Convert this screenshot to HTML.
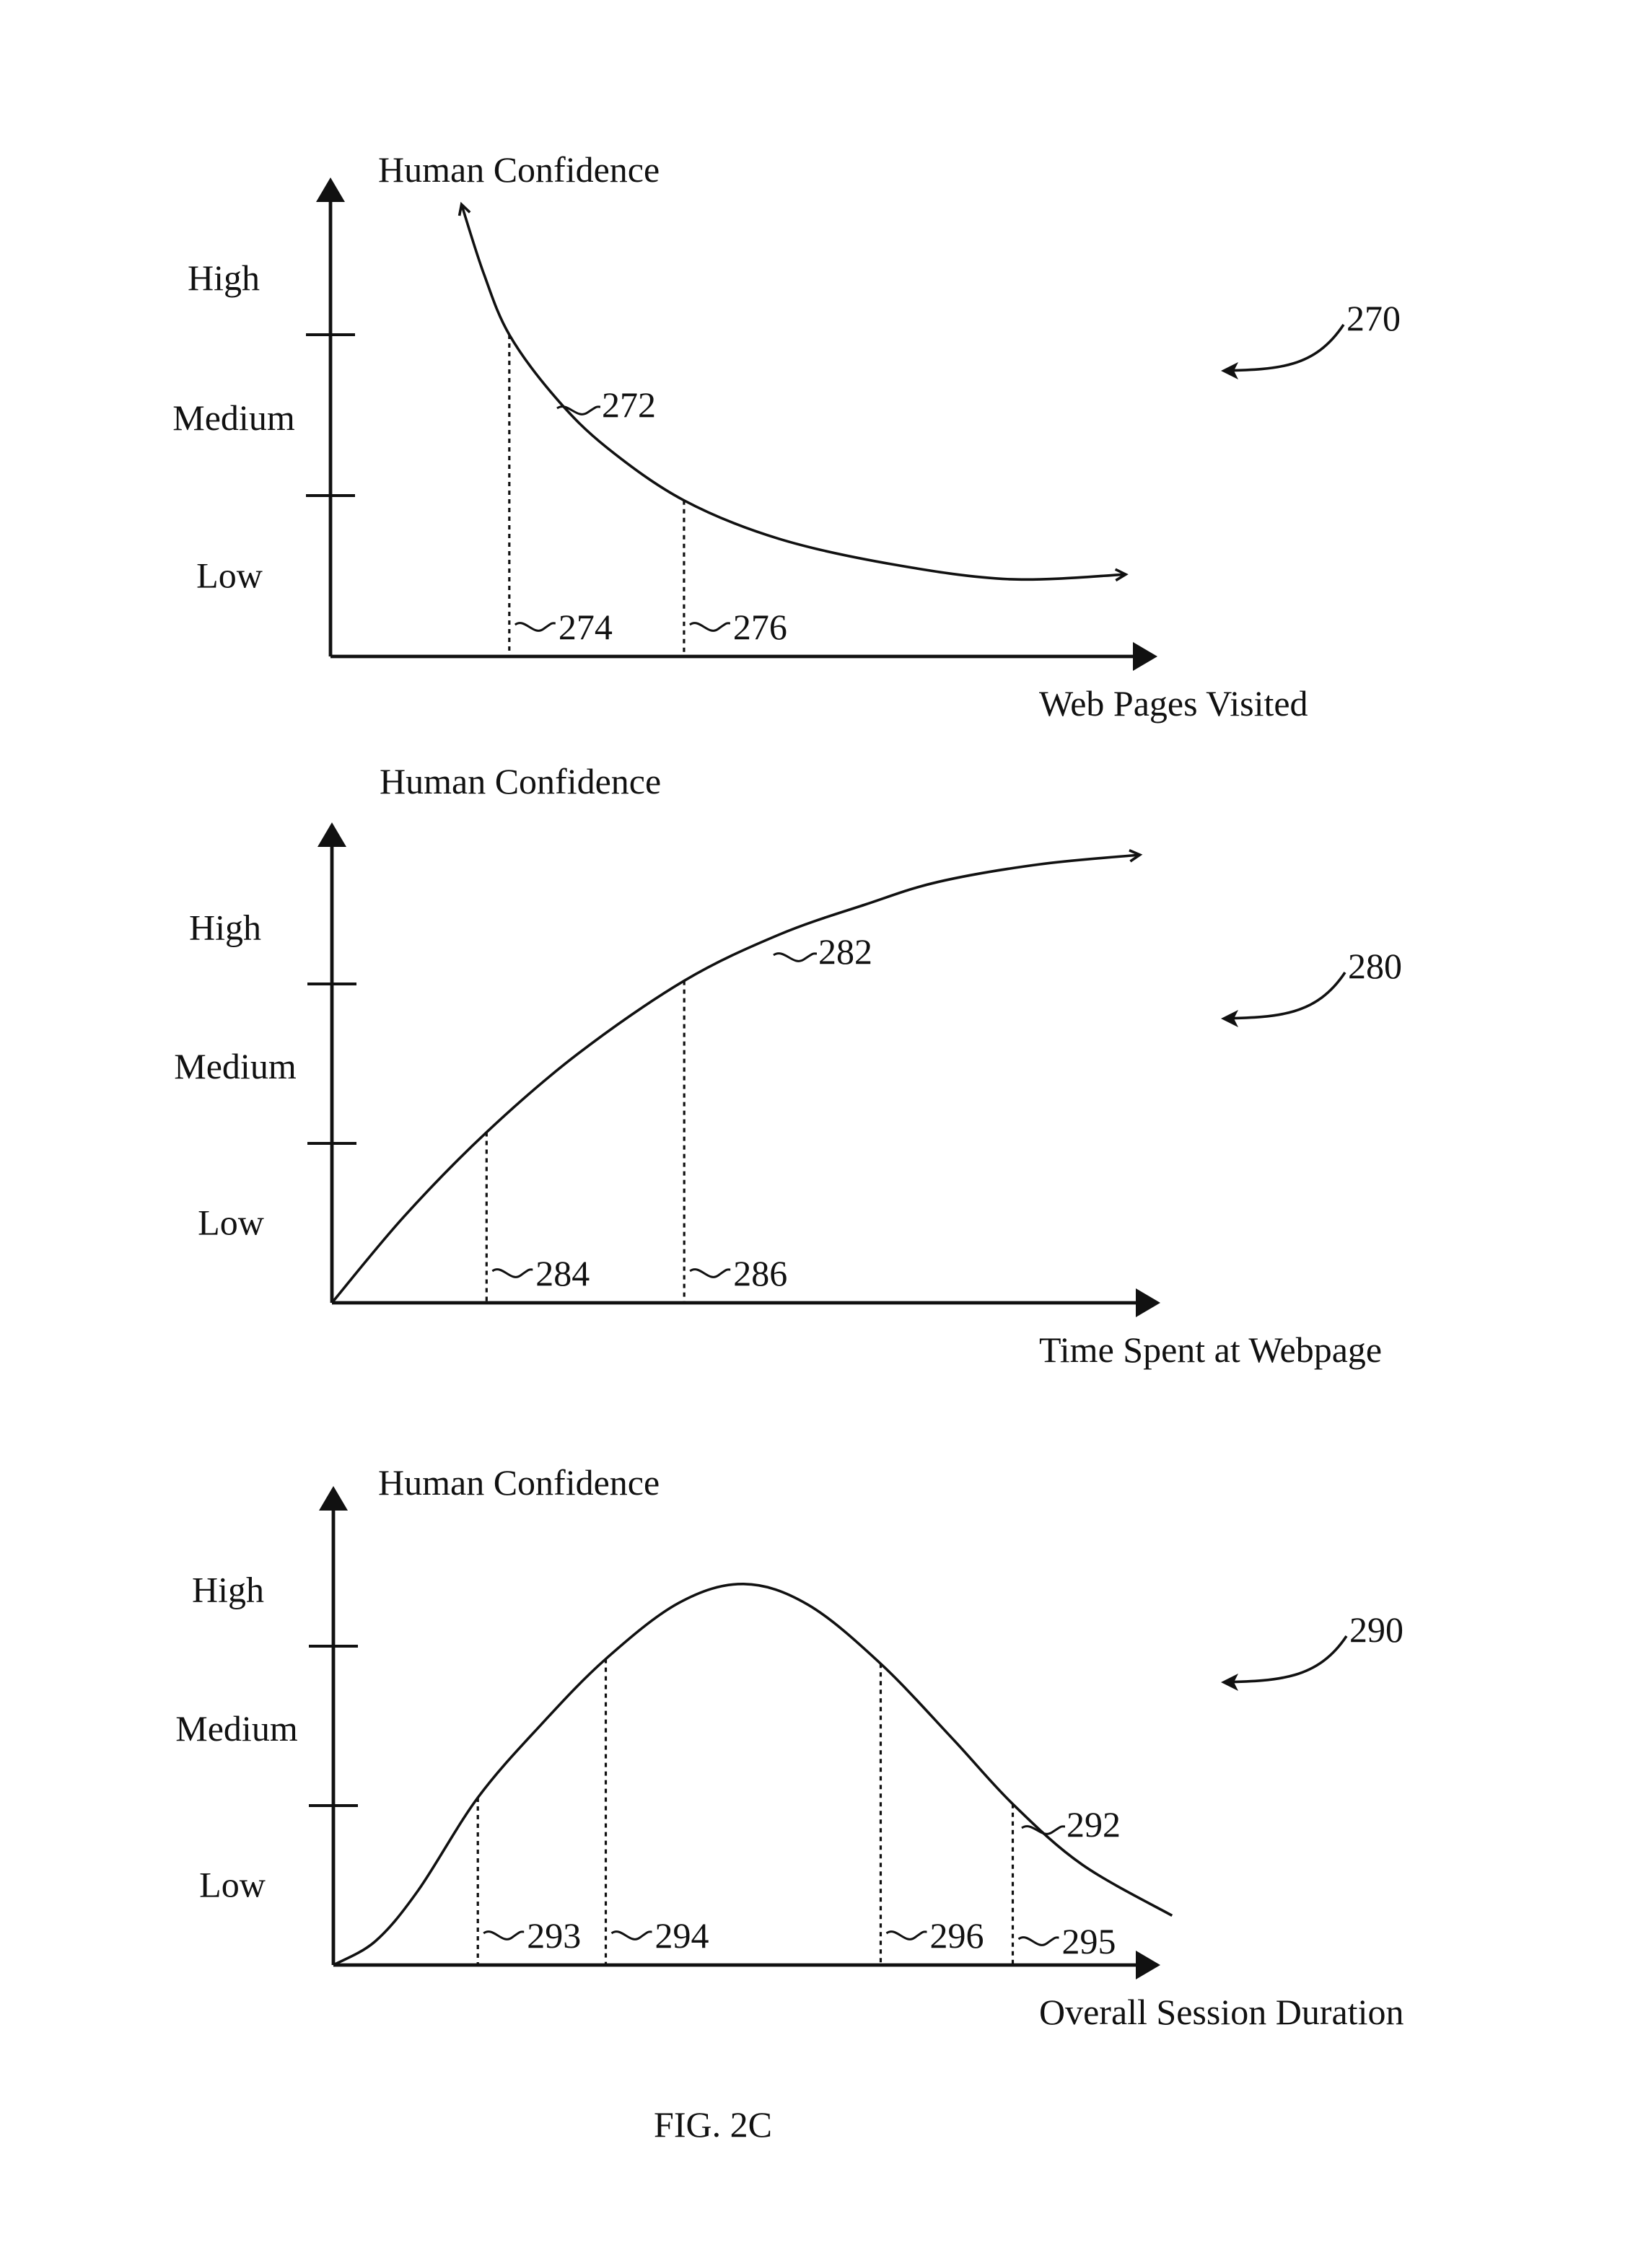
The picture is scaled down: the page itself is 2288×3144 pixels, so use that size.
<!DOCTYPE html>
<html><head><meta charset="utf-8"><style>
html,body{margin:0;padding:0;background:#fff}
svg{display:block}
text{font-family:"Liberation Serif",serif;fill:#111}
</style></head><body>
<svg id="fig" width="2288" height="3144" viewBox="0 0 1144 1572" xmlns="http://www.w3.org/2000/svg"></svg>
<script>
// Chart 270: Web Pages Visited
const c1X = [1.59, 1.86, 2.17, 2.73, 3.35, 4.29, 5.45, 6.85, 8.25, 9.65];
const c1V = [2.81, 2.38, 2.0, 1.61, 1.30, 0.97, 0.73, 0.57, 0.48, 0.51];
const c1Marks = [2.17, 4.29];
const c1Labels = ["274", "276"];
// Chart 280: Time Spent at Webpage
const c2X = [0, 0.87, 1.87, 2.97, 4.26, 5.41, 6.46, 7.33, 8.55, 9.77];
const c2V = [0, 0.54, 1.07, 1.56, 2.02, 2.31, 2.50, 2.64, 2.75, 2.81];
const c2Marks = [1.87, 4.26];
const c2Labels = ["284", "286"];
// Chart 290: Overall Session Duration
const c3X = [0, 0.51, 1.03, 1.75, 2.52, 3.30, 4.18, 4.97, 5.75, 6.63, 7.50, 8.23, 9.07, 10.16];
const c3V = [0, 0.15, 0.47, 1.05, 1.51, 1.92, 2.27, 2.39, 2.26, 1.89, 1.42, 1.01, 0.63, 0.31];
const c3Marks = [1.75, 3.30, 6.63, 8.23];
const c3Labels = ["293", "294", "296", "295"];
const levelLabels = ["Low", "Medium", "High"];
const levelPos = [0.5, 1.48, 2.35];

const NS = "http://www.w3.org/2000/svg";
const svg = document.getElementById("fig");
function el(tag, attrs, parent) {
  const e = document.createElementNS(NS, tag);
  for (const k in attrs) e.setAttribute(k, attrs[k]);
  (parent || svg).appendChild(e);
  return e;
}
function txt(s, x, y, anchor, size, parent) {
  const t = el("text", {x: x, y: y, "text-anchor": anchor || "start", "font-size": size || 25}, parent);
  t.textContent = s;
  return t;
}
function smooth(pts) {
  let d = "M" + pts[0][0] + "," + pts[0][1];
  for (let i = 0; i < pts.length - 1; i++) {
    const p0 = pts[Math.max(0, i - 1)], p1 = pts[i], p2 = pts[i + 1], p3 = pts[Math.min(pts.length - 1, i + 2)];
    const c1x = p1[0] + (p2[0] - p0[0]) / 6, c1y = p1[1] + (p2[1] - p0[1]) / 6;
    const c2x = p2[0] - (p3[0] - p1[0]) / 6, c2y = p2[1] - (p3[1] - p1[1]) / 6;
    d += " C" + c1x + "," + c1y + " " + c2x + "," + c2y + " " + p2[0] + "," + p2[1];
  }
  return d;
}
function squiggle(x, y, w) {
  return "M" + x + "," + y + " c" + (w*0.25) + ",-5 " + (w*0.45) + ",8 " + (w*0.7) + ",3 s" + (w*0.2) + ",-4 " + (w*0.3) + ",-4";
}
function chart(cfg) {
  const g = el("g", {});
  
  
  const ax0 = cfg.ax, ax1 = cfg.axEnd, bottom = cfg.bottom, unit = cfg.unit;
  const sx = v => ax0 + v * cfg.xs;
  const sy = v => bottom - v * unit;
  const top = cfg.top;
  const ya = el("line", {x1: ax0, y1: bottom, x2: ax0, y2: top + 14, stroke: "#111", "stroke-width": 2.4}, g);
  
  
  el("polygon", {points: (ax0-10)+","+(top+17)+" "+(ax0+10)+","+(top+17)+" "+ax0+","+top, fill: "#111"}, g);
  const xa = el("line", {x1: ax0, y1: bottom, x2: ax1 - 14, y2: bottom, stroke: "#111", "stroke-width": 2.4}, g);
  
  
  el("polygon", {points: (ax1-17)+","+(bottom-10)+" "+(ax1-17)+","+(bottom+10)+" "+ax1+","+bottom, fill: "#111"}, g);
  [1, 2].forEach(v => {
    const t = el("line", {x1: ax0 - 17, y1: sy(v), x2: ax0 + 17, y2: sy(v), stroke: "#111", "stroke-width": 2}, g);
    
    
  });
  levelLabels.forEach((s, i) => {
    const t = txt(s, cfg.lx[i], sy(levelPos[i]) + 8, "middle", 25, g);
    
    
  });
  const yt = txt("Human Confidence", cfg.htx, cfg.hty, "start", 25, g);
  
  
  const xt = txt(cfg.xtitle, 720, bottom + 41, "start", 25, g);
  
  
  const pts = cfg.X.map((x, i) => [sx(x), sy(cfg.V[i])]);
  const cv = el("path", {d: smooth(pts), fill: "none", stroke: "#111", "stroke-width": 1.8}, g);
  
  
  function head(p, q) {
    const a = Math.atan2(p[1] - q[1], p[0] - q[0]);
    const L = 8, s = 0.5;
    const d = "M" + (p[0] - L*Math.cos(a - s)) + "," + (p[1] - L*Math.sin(a - s)) + " L" + p[0] + "," + p[1] + " L" + (p[0] - L*Math.cos(a + s)) + "," + (p[1] - L*Math.sin(a + s));
    el("path", {d: d, fill: "none", stroke: "#111", "stroke-width": 1.8}, g);
  }
  if (cfg.headStart) head(pts[0], pts[1]);
  if (cfg.headEnd) head(pts[pts.length - 1], pts[pts.length - 2]);
  function valAt(x) {
    for (let i = 0; i < cfg.X.length - 1; i++) {
      if (x >= cfg.X[i] && x <= cfg.X[i + 1]) {
        const t = (x - cfg.X[i]) / (cfg.X[i + 1] - cfg.X[i]);
        return cfg.V[i] + t * (cfg.V[i + 1] - cfg.V[i]);
      }
    }
    return 0;
  }
  cfg.marks.forEach((m, i) => {
    const x = sx(m);
    const dy = cfg.labDy ? cfg.labDy[i] : 0;
    const dl = el("line", {x1: x, y1: sy(valAt(m)), x2: x, y2: bottom, stroke: "#111", "stroke-width": 1.6, "stroke-dasharray": "3,3"}, g);
    
    
    el("path", {d: squiggle(x + 4, bottom - 22 + dy, 28), fill: "none", stroke: "#111", "stroke-width": 1.5}, g);
    const lt = txt(cfg.labels[i], x + 34, bottom - 12 + dy, "start", 25, g);
    
    
  });
  const cl = cfg.curveLabel;
  el("path", {d: squiggle(cl[0], cl[1] - 6, 30), fill: "none", stroke: "#111", "stroke-width": 1.5}, g);
  const rl = txt(cl[2], cl[0] + 31, cl[1], "start", 25, g);
  
  
  const f = cfg.fig;
  const fl = txt(f[2], f[0], f[1], "start", 25, g);
  
  
  const ax = f[0] - 2, ay = f[1] - 4, ex = 846, ey = f[1] + 28;
  el("path", {d: "M" + ax + "," + ay + " C" + (ax - 20) + "," + (ay + 30) + " " + (ex + 40) + "," + (ey - 1) + " " + (ex + 2) + "," + ey, fill: "none", stroke: "#111", "stroke-width": 1.8}, g);
  el("polygon", {points: ex + "," + ey + " " + (ex + 12) + "," + (ey - 6) + " " + (ex + 9) + "," + ey + " " + (ex + 12) + "," + (ey + 6), fill: "#111"}, g);
}
chart({name: "chart-270", ax: 229, axEnd: 802, xs: 57.1, top: 123, bottom: 455, unit: 111.5, X: c1X, V: c1V,
  marks: c1Marks, labels: c1Labels, lx: [159, 162, 155], htx: 262, hty: 126, xtitle: "Web Pages Visited",
  headStart: true, headEnd: true, curveLabel: [386, 289, "272"], fig: [933, 229, "270"]});
chart({name: "chart-280", ax: 230, axEnd: 804, xs: 57.3, top: 570, bottom: 903, unit: 110.5, X: c2X, V: c2V,
  marks: c2Marks, labels: c2Labels, lx: [160, 163, 156], htx: 263, hty: 550, xtitle: "Time Spent at Webpage",
  headStart: false, headEnd: true, curveLabel: [536, 668, "282"], fig: [934, 678, "280"]});
chart({name: "chart-290", ax: 231, axEnd: 804, xs: 57.2, top: 1030, bottom: 1362, unit: 110.5, X: c3X, V: c3V,
  marks: c3Marks, labels: c3Labels, lx: [161, 164, 158], htx: 262, hty: 1036, xtitle: "Overall Session Duration",
  labDy: [0, 0, 0, 4], headStart: false, headEnd: false, curveLabel: [708, 1273, "292"], fig: [935, 1138, "290"]});
const fig = txt("FIG. 2C", 494, 1481, "middle", 25);


</script>
</body></html>
